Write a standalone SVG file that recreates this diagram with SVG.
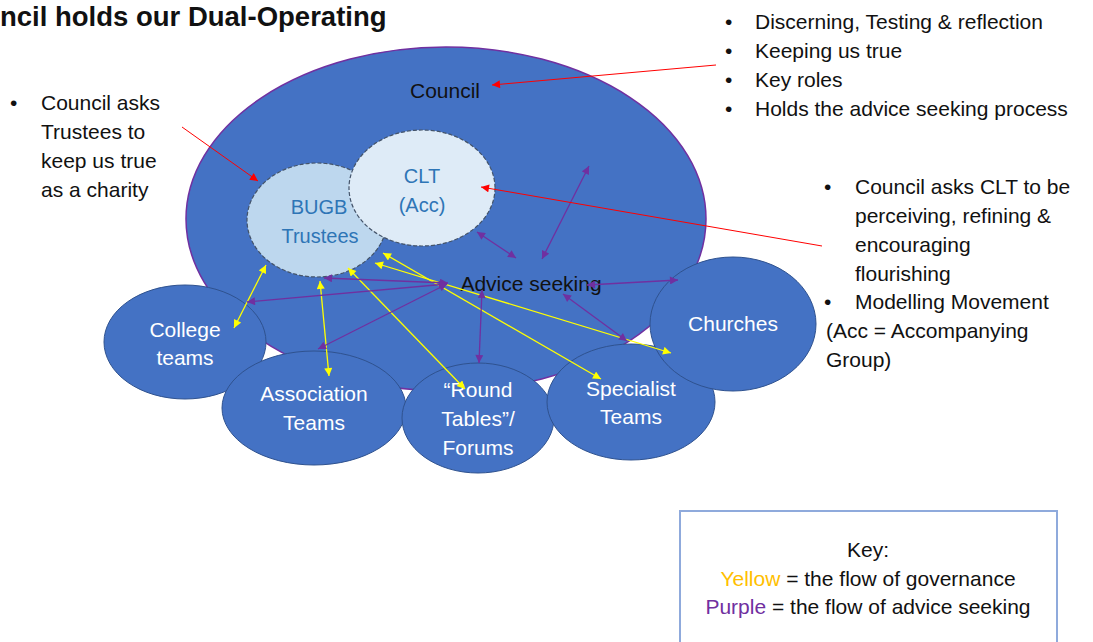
<svg xmlns="http://www.w3.org/2000/svg" width="1093" height="642" viewBox="0 0 1093 642">
<defs>
<style>
text{font-family:"Liberation Sans",Arial,sans-serif;font-size:21px;}
.blk{fill:#111;}
.wht{fill:#fff;text-anchor:middle;}
.inner{fill:#2E75B6;text-anchor:middle;font-size:20px;}
.team{fill:#4472C4;stroke:#2F528F;stroke-width:1;}
.y{stroke:#FFFF00;stroke-width:1.3;fill:none;marker-start:url(#ya);marker-end:url(#ya);}
.p{stroke:#7030A0;stroke-width:1.3;fill:none;marker-start:url(#pa);marker-end:url(#pa);}
.r{stroke:#FF0000;stroke-width:1;fill:none;marker-end:url(#ra);}
</style>
<marker id="ya" viewBox="0 0 10 10" refX="10" refY="5" markerWidth="9" markerHeight="8" markerUnits="userSpaceOnUse" orient="auto-start-reverse"><path d="M0,0L10,5L0,10z" fill="#FFFF00"/></marker>
<marker id="pa" viewBox="0 0 10 10" refX="10" refY="5" markerWidth="9" markerHeight="8" markerUnits="userSpaceOnUse" orient="auto-start-reverse"><path d="M0,0L10,5L0,10z" fill="#7030A0"/></marker>
<marker id="ra" viewBox="0 0 10 10" refX="10" refY="5" markerWidth="9" markerHeight="8" markerUnits="userSpaceOnUse" orient="auto"><path d="M0,0L10,5L0,10z" fill="#FF0000"/></marker>
</defs>
<rect width="1093" height="642" fill="#fff"/>
<text x="0" y="26" style="font-size:27.5px;font-weight:bold" class="blk">ncil holds our Dual-Operating</text>

<g id="council">
<ellipse cx="446" cy="219" rx="260" ry="172" fill="#4472C4" stroke="#7030A0" stroke-width="1.5"/>
<text x="445" y="98" class="blk" text-anchor="middle">Council</text>
</g>
<g id="bugb">
<ellipse cx="317" cy="220" rx="70" ry="57" fill="#BDD7EE" stroke="#44546A" stroke-width="1.2" stroke-dasharray="4 2"/>
<text x="319" y="214" class="inner">BUGB</text>
<text x="320" y="243" class="inner">Trustees</text>
</g>
<g id="clt">
<ellipse cx="422" cy="188" rx="73" ry="58" fill="#DEEBF7" stroke="#44546A" stroke-width="1.2" stroke-dasharray="4 2"/>
<text x="422" y="183" class="inner">CLT</text>
<text x="422" y="212" class="inner">(Acc)</text>
</g>
<g id="advice">
<text x="531" y="291" class="blk" text-anchor="middle">Advice seeking</text>
</g>
<g id="college">
<ellipse cx="185" cy="342" rx="81" ry="57" class="team"/>
<text x="185" y="337" class="wht">College</text>
<text x="185" y="365" class="wht">teams</text>
</g>
<g id="association">
<ellipse cx="314" cy="408" rx="92" ry="57" class="team"/>
<text x="314" y="401" class="wht">Association</text>
<text x="314" y="430" class="wht">Teams</text>
</g>
<g id="roundtables">
<ellipse cx="478" cy="418" rx="76" ry="55" class="team"/>
<text x="478" y="397" class="wht">“Round</text>
<text x="478" y="426" class="wht">Tables”/</text>
<text x="478" y="455" class="wht">Forums</text>
</g>
<g id="specialist">
<ellipse cx="631" cy="402" rx="84" ry="58" class="team"/>
<text x="631" y="396" class="wht">Specialist</text>
<text x="631" y="424" class="wht">Teams</text>
</g>
<g id="churches">
<ellipse cx="733" cy="324" rx="83" ry="67" class="team"/>
<text x="733" y="331" class="wht">Churches</text>
</g>

<g id="connectors">
<line class="y" x1="266" y1="265" x2="234" y2="328"/>
<line class="y" x1="320" y1="281" x2="329" y2="376"/>
<line class="y" x1="348" y1="268" x2="465" y2="389"/>
<line class="y" x1="383" y1="253" x2="601" y2="379"/>
<line class="y" x1="375" y1="263" x2="671" y2="353"/>
<line class="p" x1="477" y1="232" x2="516" y2="258"/>
<line class="p" x1="589" y1="166" x2="542" y2="259"/>
<line class="p" x1="587" y1="285" x2="678" y2="280"/>
<line class="p" x1="563" y1="294" x2="627" y2="341"/>
<line class="p" x1="482" y1="290" x2="479" y2="363"/>
<line class="p" x1="324" y1="278" x2="448" y2="283"/>
<line class="p" x1="247" y1="302" x2="447" y2="284"/>
<line class="p" x1="447" y1="284" x2="318" y2="349"/>
<line class="r" x1="716" y1="65" x2="492" y2="85"/>
<line class="r" x1="182" y1="127" x2="258" y2="181"/>
<line class="r" x1="822" y1="246" x2="481" y2="187"/>
</g>

<g id="notes-left">
<text x="10" y="110" class="blk">•</text>
<text x="41" y="110" class="blk">Council asks</text>
<text x="41" y="139" class="blk">Trustees to</text>
<text x="41" y="168" class="blk">keep us true</text>
<text x="41" y="197" class="blk">as a charity</text>
</g>
<g id="notes-top">
<text x="725" y="29" class="blk">•</text>
<text x="755" y="29" class="blk">Discerning, Testing &amp; reflection</text>
<text x="725" y="58" class="blk">•</text>
<text x="755" y="58" class="blk">Keeping us true</text>
<text x="725" y="87" class="blk">•</text>
<text x="755" y="87" class="blk">Key roles</text>
<text x="725" y="116" class="blk">•</text>
<text x="755" y="116" class="blk">Holds the advice seeking process</text>
</g>
<g id="notes-right">
<text x="824" y="194" class="blk">•</text>
<text x="855" y="194" class="blk">Council asks CLT to be</text>
<text x="855" y="223" class="blk">perceiving, refining &amp;</text>
<text x="855" y="252" class="blk">encouraging</text>
<text x="855" y="281" class="blk">flourishing</text>
<text x="824" y="309" class="blk">•</text>
<text x="855" y="309" class="blk">Modelling Movement</text>
<text x="826" y="338" class="blk">(Acc = Accompanying</text>
<text x="826" y="367" class="blk">Group)</text>
</g>
<g id="key">
<rect x="680" y="511" width="377" height="140" fill="#fff" stroke="#8FAADC" stroke-width="2"/>
<text x="868" y="557" class="blk" text-anchor="middle">Key:</text>
<text x="868" y="586" class="blk" text-anchor="middle"><tspan fill="#FFC000">Yellow</tspan> = the flow of governance</text>
<text x="868" y="614" class="blk" text-anchor="middle"><tspan fill="#7030A0">Purple</tspan> = the flow of advice seeking</text>
</g>
</svg>
